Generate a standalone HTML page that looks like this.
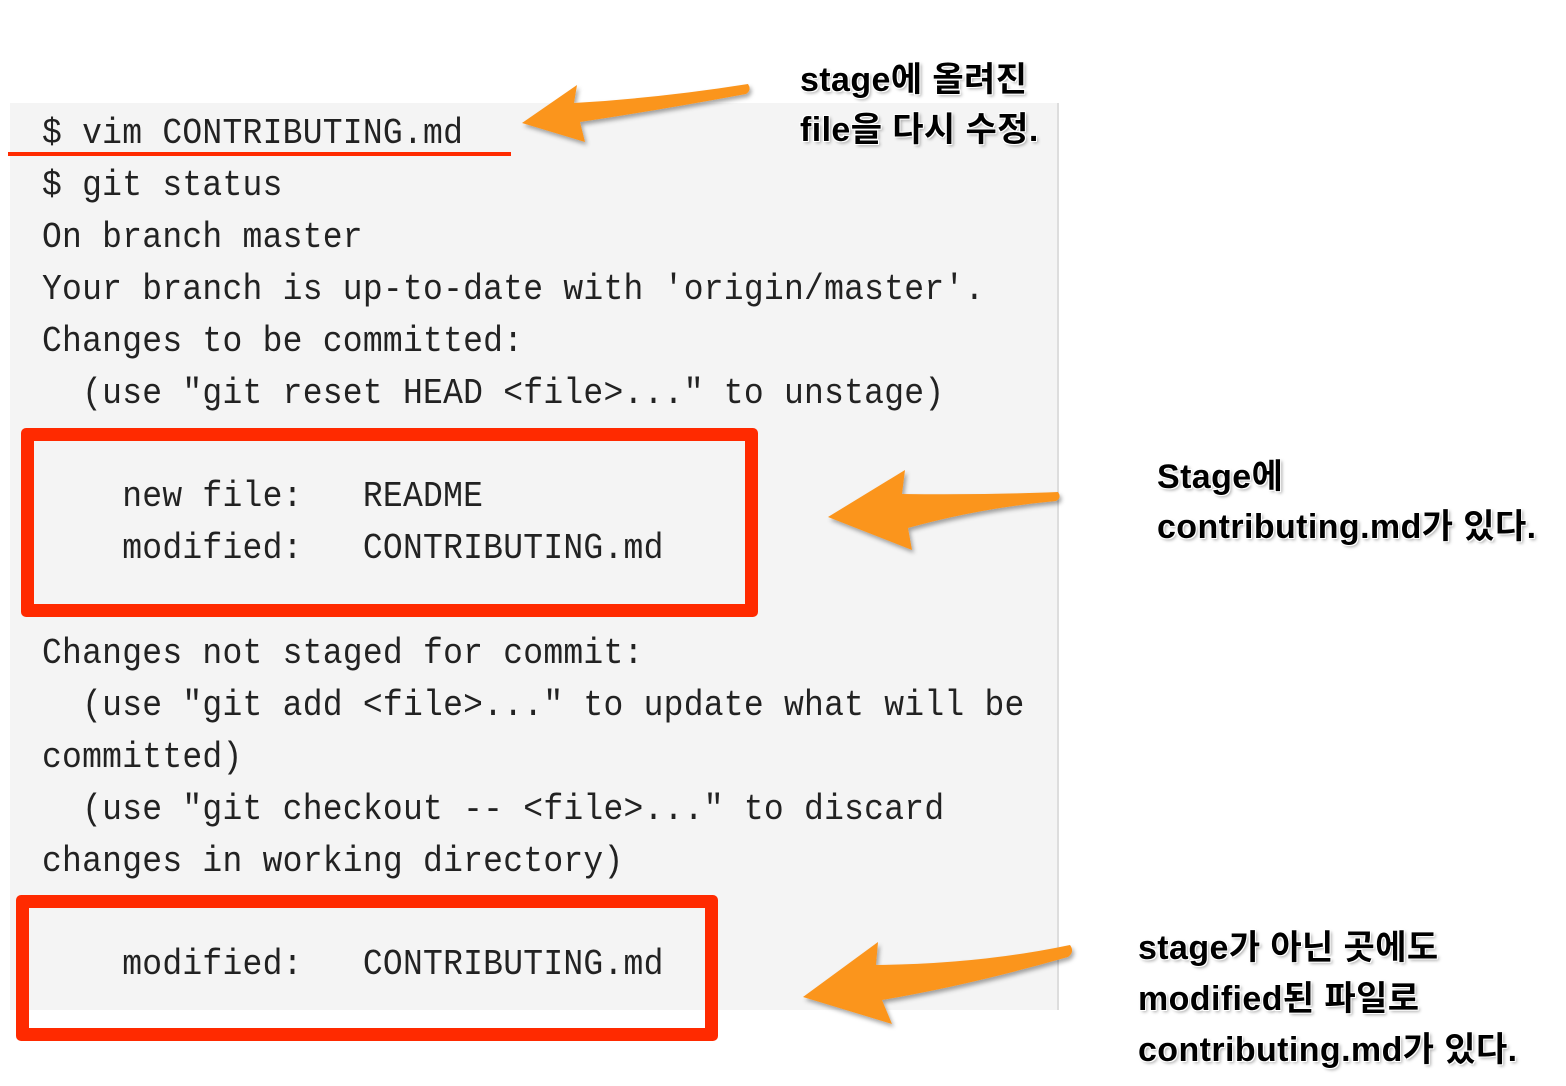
<!DOCTYPE html>
<html><head><meta charset="utf-8"><style>
body{margin:0;width:1566px;height:1086px;background:#fff;position:relative;overflow:hidden}
.panel{position:absolute;left:10px;top:103px;width:1047px;height:907px;background:#f4f4f4;border-right:2px solid #ddd}
.t{position:absolute;font-family:"Liberation Mono","DejaVu Sans Mono",monospace;font-size:33px;letter-spacing:0.25px;color:#222;white-space:pre;line-height:40px;transform:scaleY(1.1)}
.box{position:absolute;border:13px solid #ff2a00;border-radius:5px;box-sizing:border-box}
.a{position:absolute;font-family:"Liberation Sans","Noto Sans CJK KR",sans-serif;font-weight:bold;font-size:34px;color:#000;white-space:pre;line-height:40px;letter-spacing:0.4px;text-shadow:0 0 2px #fff,1px 1px 0 #fff,-1px -1px 0 #fff,1px -1px 0 #fff,-1px 1px 0 #fff,2px 2px 3px rgba(0,0,0,.35)}
</style></head><body>
<div class="panel"></div>
<div class="t" style="left:42px;top:114px">$ vim CONTRIBUTING.md</div>
<div style="position:absolute;left:8px;top:152px;width:503px;height:4px;background:#ff2a00"></div>
<div class="t" style="left:42px;top:166px">$ git status</div>
<div class="t" style="left:42px;top:218px">On branch master</div>
<div class="t" style="left:42px;top:270px">Your branch is up-to-date with 'origin/master'.</div>
<div class="t" style="left:42px;top:322px">Changes to be committed:</div>
<div class="t" style="left:42px;top:374px">  (use "git reset HEAD &lt;file&gt;..." to unstage)</div>
<div class="t" style="left:42px;top:477px">    new file:   README</div>
<div class="t" style="left:42px;top:529px">    modified:   CONTRIBUTING.md</div>
<div class="t" style="left:42px;top:634px">Changes not staged for commit:</div>
<div class="t" style="left:42px;top:686px">  (use "git add &lt;file&gt;..." to update what will be</div>
<div class="t" style="left:42px;top:738px">committed)</div>
<div class="t" style="left:42px;top:790px">  (use "git checkout -- &lt;file&gt;..." to discard</div>
<div class="t" style="left:42px;top:842px">changes in working directory)</div>
<div class="t" style="left:42px;top:945px">    modified:   CONTRIBUTING.md</div>
<div class="box" style="left:21px;top:428px;width:737px;height:189px"></div>
<div class="box" style="left:16px;top:895px;width:702px;height:146px"></div>
<svg width="1566" height="1086" style="position:absolute;left:0;top:0">
<defs><filter id="s"><feDropShadow dx="2" dy="3" stdDeviation="2" flood-color="#000" flood-opacity="0.35"/></filter></defs>
<g fill="#fb951f" filter="url(#s)">
<path d="M522,123 L577,85 L574,103 Q660,98 748,84 Q752,90 746,94 Q660,110 580,122 L585,142 Z"/>
<path d="M828,517 L905,470 L902,494 Q990,495 1058,492 Q1062,498 1056,501 Q980,508 908,528 L912,550 Z"/>
<path d="M803,997 L878,942 L876,965 Q980,964 1070,945 Q1075,952 1068,957 Q970,985 882,1000 L892,1024 Z"/>
</g></svg>
<div class="a" style="left:800px;top:60px">stage에 올려진</div>
<div class="a" style="left:800px;top:110px">file을 다시 수정.</div>
<div class="a" style="left:1157px;top:457px">Stage에</div>
<div class="a" style="left:1157px;top:507px">contributing.md가 있다.</div>
<div class="a" style="left:1138px;top:928px">stage가 아닌 곳에도</div>
<div class="a" style="left:1138px;top:979px">modified된 파일로</div>
<div class="a" style="left:1138px;top:1030px">contributing.md가 있다.</div>
</body></html>
